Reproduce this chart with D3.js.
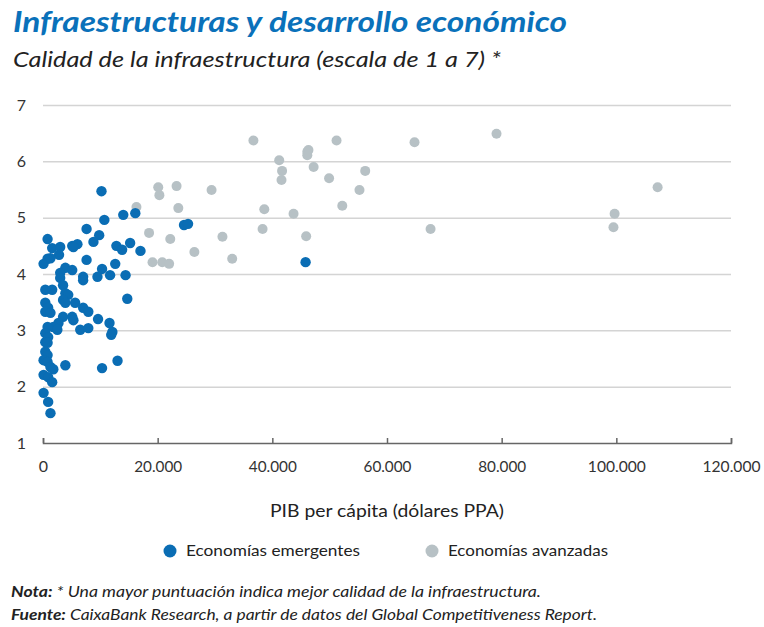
<!DOCTYPE html>
<html>
<head>
<meta charset="utf-8">
<script src="https://cdn.jsdelivr.net/npm/d3@7"></script>
<style>
  body { margin: 0; background: #fff; }
  text { font-family: Lato, "Open Sans", sans-serif; }
</style>
</head>
<body>
<div id="chart"></div>
<script>
// PIB per capita (miles de dolares PPA) y calidad de la infraestructura (1-7)
const emergentesPib = [10.2, 14.0, 16.1, 10.7, 7.6, 9.8, 8.8, 0.8, 1.6, 3.0, 2.8, 5.1, 6.0, 5.3,
  0.8, 0.1, 1.3, 12.8, 13.8, 15.2, 17.0, 7.6, 12.6, 10.3, 3.9, 5.1, 3.0, 7.0, 9.5, 11.7, 14.4,
  3.0, 7.0, 0.4, 1.6, 24.6, 25.3, 45.8, 14.7, 3.5, 3.9, 4.4, 0.4, 0.9, 0.4, 1.3, 3.5, 3.9, 5.6,
  7.0, 7.9, 3.5, 5.1, 5.3, 2.7, 1.8, 9.6, 11.6, 6.5, 7.9, 12.1, 11.9, 0.8, 0.4, 0.9, 0.4, 0.8,
  2.5, 0.4, 0.8, 0.1, 0.8, 1.3, 1.8, 3.9, 10.3, 13.0, 0.1, 0.9, 1.6, 0.1, 0.9, 1.3];
const emergentesCalidad = [5.47, 5.05, 5.08, 4.96, 4.80, 4.69, 4.57, 4.62, 4.46, 4.48, 4.34, 4.50,
  4.53, 4.48, 4.27, 4.18, 4.28, 4.50, 4.43, 4.55, 4.41, 4.25, 4.18, 4.09, 4.11, 4.07, 4.02, 3.95,
  3.95, 3.98, 3.98, 3.93, 3.89, 3.72, 3.72, 4.87, 4.89, 4.21, 3.56, 3.80, 3.66, 3.63, 3.49, 3.40,
  3.33, 3.31, 3.54, 3.49, 3.49, 3.40, 3.33, 3.24, 3.24, 3.18, 3.13, 3.06, 3.20, 3.13, 3.01, 3.04,
  2.97, 2.92, 3.06, 2.95, 2.88, 2.79, 2.78, 3.01, 2.62, 2.56, 2.47, 2.44, 2.35, 2.31, 2.38, 2.33,
  2.46, 2.21, 2.17, 2.08, 1.89, 1.73, 1.53];

const avanzadasPib = [36.7, 51.2, 41.2, 41.7, 41.6, 46.1, 46.3, 46.1, 47.2, 49.9, 20.1, 20.3, 23.3,
  29.4, 16.3, 23.6, 38.6, 43.7, 52.2, 18.5, 22.2, 31.3, 38.3, 45.9, 26.4, 19.1, 20.8, 22.0, 33.0,
  64.8, 79.1, 56.2, 55.2, 67.6, 107.2, 99.7, 99.5];
const avanzadasCalidad = [6.37, 6.37, 6.02, 5.83, 5.67, 6.17, 6.20, 6.11, 5.90, 5.70, 5.54, 5.40,
  5.56, 5.49, 5.19, 5.17, 5.15, 5.07, 5.21, 4.73, 4.62, 4.66, 4.80, 4.67, 4.39, 4.21, 4.21, 4.18,
  4.27, 6.34, 6.49, 5.83, 5.49, 4.80, 5.54, 5.07, 4.83];

const xTicks = [0, 20000, 40000, 60000, 80000, 100000, 120000];
const yTicks = [1, 2, 3, 4, 5, 6, 7];
const seriesNames = ["Economías emergentes", "Economías avanzadas"];

const W = 764, H = 627;
const blue = "#0a6db4", grey = "#b7c1c5";

const fmt = d3.formatLocale({ decimal: ",", thousands: ".", grouping: [3], currency: ["", ""] }).format(",");

const svg = d3.select("#chart").append("svg")
  .attr("width", W)
  .attr("height", H);

const x = d3.scaleLinear().domain([0, 120000]).range([43, 731]);
const y = d3.scaleLinear().domain([1, 7]).range([443, 105]);

// titulos
svg.append("text")
  .attr("x", 13).attr("y", 32)
  .attr("textLength", 554).attr("lengthAdjust", "spacingAndGlyphs")
  .style("font-size", "28px").style("font-weight", "bold").style("font-style", "italic")
  .style("fill", "#0a71ba")
  .text("Infraestructuras y desarrollo económico");

svg.append("text")
  .attr("x", 13).attr("y", 67)
  .attr("textLength", 488).attr("lengthAdjust", "spacingAndGlyphs")
  .style("font-size", "21px").style("font-style", "italic")
  .style("fill", "#222")
  .text("Calidad de la infraestructura (escala de 1 a 7) *");

// rejilla y eje Y
const yAxis = svg.append("g")
  .attr("transform", "translate(" + x(0) + ",0)")
  .call(d3.axisLeft(y).tickValues(yTicks).tickFormat(d3.format("d"))
    .tickSize(-(x(120000) - x(0))).tickPadding(17));
yAxis.select(".domain").remove();
yAxis.selectAll(".tick line")
  .attr("stroke", "#d4d4d4")
  .attr("stroke-width", 1.5)
  .filter(d => d === 1).remove();
yAxis.selectAll(".tick text")
  .style("font-size", "16px").style("fill", "#333").style("font-family", "Lato, sans-serif");

// eje X
const xAxis = svg.append("g")
  .attr("transform", "translate(0," + y(1) + ")")
  .call(d3.axisBottom(x).tickValues(xTicks).tickFormat(fmt)
    .tickSizeInner(-5).tickSizeOuter(-5).tickPadding(18));
xAxis.select(".domain").attr("stroke", "#666").attr("stroke-width", 1.5);
xAxis.selectAll(".tick line").attr("stroke", "#666").attr("stroke-width", 1.5);
xAxis.selectAll(".tick text")
  .style("font-size", "16px").style("fill", "#333").style("font-family", "Lato, sans-serif")
  .attr("textLength", d => d === 0 ? null : (d >= 100000 ? 58 : 48))
  .attr("lengthAdjust", "spacingAndGlyphs");

svg.append("text")
  .attr("x", (x(0) + x(120000)) / 2).attr("y", 517)
  .attr("text-anchor", "middle")
  .attr("textLength", 234).attr("lengthAdjust", "spacingAndGlyphs")
  .style("font-size", "17px").style("fill", "#222")
  .text("PIB per cápita (dólares PPA)");

// puntos
const avanzadas = avanzadasPib.map((p, i) => ({ pib: p * 1000, cal: avanzadasCalidad[i] }));
const emergentes = emergentesPib.map((p, i) => ({ pib: p * 1000, cal: emergentesCalidad[i] }));

svg.append("g").selectAll("circle")
  .data(avanzadas)
  .enter().append("circle")
  .attr("cx", d => x(d.pib))
  .attr("cy", d => y(d.cal))
  .attr("r", 5)
  .attr("fill", grey);

svg.append("g").selectAll("circle")
  .data(emergentes)
  .enter().append("circle")
  .attr("cx", d => x(d.pib))
  .attr("cy", d => y(d.cal))
  .attr("r", 5.2)
  .attr("fill", blue);

// leyenda
const legend = svg.append("g").selectAll("g")
  .data(seriesNames)
  .enter().append("g")
  .attr("transform", (d, i) => "translate(" + [170, 432][i] + ",551)");
legend.append("circle")
  .attr("r", 6.5)
  .attr("fill", (d, i) => i === 0 ? blue : grey);
legend.append("text")
  .attr("x", 16).attr("y", 5)
  .attr("textLength", (d, i) => [174, 160][i]).attr("lengthAdjust", "spacingAndGlyphs")
  .style("font-size", "16px").style("fill", "#222")
  .text(d => d);

// notas
const note1 = svg.append("text")
  .attr("x", 11).attr("y", 597)
  .attr("textLength", 530).attr("lengthAdjust", "spacingAndGlyphs")
  .style("font-size", "15px").style("font-style", "italic").style("fill", "#222");
note1.append("tspan").style("font-weight", "bold").text("Nota:");
note1.append("tspan").text(" * Una mayor puntuación indica mejor calidad de la infraestructura.");

const note2 = svg.append("text")
  .attr("x", 11).attr("y", 620)
  .attr("textLength", 586).attr("lengthAdjust", "spacingAndGlyphs")
  .style("font-size", "15px").style("font-style", "italic").style("fill", "#222");
note2.append("tspan").style("font-weight", "bold").text("Fuente:");
note2.append("tspan").text(" CaixaBank Research, a partir de datos del Global Competitiveness Report.");
</script>
</body>
</html>
